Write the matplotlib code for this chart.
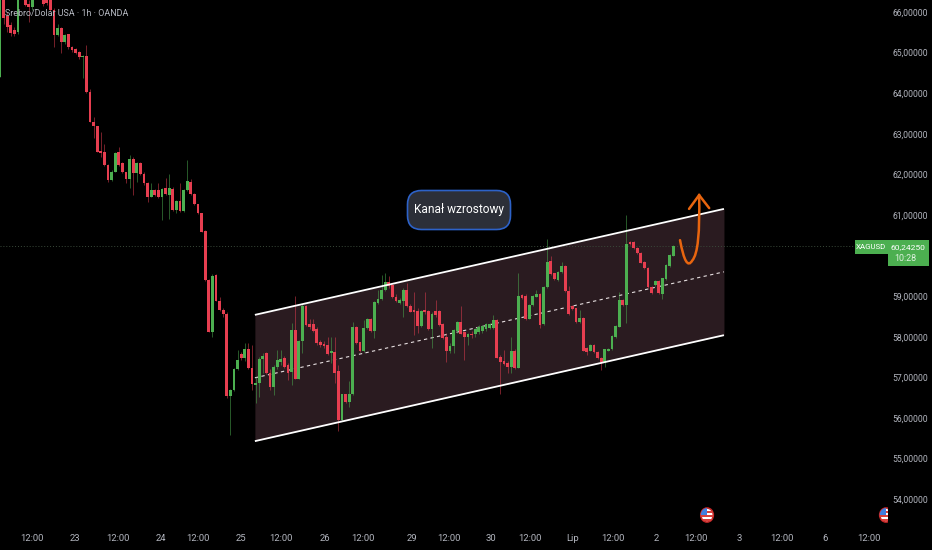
import matplotlib
matplotlib.use("Agg")
import matplotlib.pyplot as plt
from matplotlib.patches import Ellipse, FancyBboxPatch, PathPatch, Rectangle
from matplotlib.path import Path
from matplotlib.transforms import IdentityTransform

plt.rcParams["font.family"] = ["Roboto", "DejaVu Sans"]

# hourly candles (price in USD)
opens = [64.41, 66.50, 65.89, 65.68, 65.55, 65.50, 66.60, 66.45, 66.20, 66.13,
         66.50, 66.60, 66.40, 66.35, 66.40, 66.05, 65.43, 65.60, 65.25, 65.45,
         65.15, 65.10, 65.02, 64.88, 64.92, 64.04, 63.30, 63.18, 62.58, 62.56,
         62.23, 61.86, 62.07, 62.55, 62.27, 62.05, 61.88, 62.37, 62.03, 62.28,
         62.02, 61.80, 61.45, 61.62, 61.62, 61.45, 61.66, 61.50, 61.65, 61.12,
         61.35, 61.10, 61.62, 61.82, 61.51, 61.26, 61.04, 60.61, 59.40, 58.13,
         59.52, 58.89, 58.67, 58.57, 56.53, 56.69, 57.20, 57.58, 57.47, 57.69,
         57.22, 56.81, 56.87, 57.45, 57.59, 57.10, 56.77, 57.26, 57.39, 57.47,
         57.30, 57.14, 58.17, 56.97, 57.90, 58.77, 58.31, 58.31, 58.19, 57.88,
         57.83, 57.81, 57.59, 57.63, 57.16, 55.95, 56.58, 56.40, 56.59, 58.25,
         57.86, 57.65, 58.21, 58.45, 58.15, 58.84, 58.92, 59.15, 59.36, 59.27,
         58.99, 58.84, 58.87, 59.15, 58.76, 58.65, 58.64, 58.27, 58.64, 58.64,
         58.19, 58.64, 58.64, 58.31, 57.99, 57.65, 57.78, 58.15, 58.36, 58.12,
         57.99, 58.08, 58.07, 58.13, 58.15, 58.18, 58.21, 58.22, 58.41, 57.51,
         57.40, 57.36, 57.25, 57.66, 57.24, 59.03, 59.00, 58.45, 58.78, 58.99,
         59.05, 58.31, 59.22, 59.87, 59.56, 59.40, 59.59, 59.74, 59.13, 58.76,
         58.70, 58.37, 58.47, 57.72, 57.66, 57.81, 57.63, 57.49, 57.39, 57.66,
         57.70, 58.00, 58.25, 58.91, 58.78, 60.34, 60.34, 60.18, 60.06, 59.85,
         59.70, 59.23, 59.28, 59.38, 59.05, 59.42, 59.75, 60.00]
highs = [66.60, 66.60, 66.00, 65.75, 65.62, 66.60, 66.70, 66.50, 66.30, 66.40,
         66.70, 66.70, 66.45, 66.50, 66.45, 66.10, 65.70, 65.62, 65.47, 65.46,
         65.17, 65.12, 65.05, 64.95, 65.19, 64.10, 63.42, 63.20, 63.05, 62.76,
         62.25, 62.10, 62.55, 62.68, 62.30, 62.07, 62.48, 62.42, 62.30, 62.30,
         62.05, 61.82, 61.80, 61.64, 61.80, 61.66, 61.90, 62.00, 61.68, 61.37,
         61.78, 61.64, 62.35, 61.88, 61.53, 61.28, 61.05, 60.62, 59.42, 59.55,
         59.55, 58.99, 58.70, 58.60, 56.71, 57.22, 57.67, 57.63, 57.84, 57.84,
         57.80, 57.00, 57.50, 57.60, 57.62, 57.20, 57.30, 57.67, 57.67, 57.52,
         57.35, 58.33, 59.00, 57.92, 58.80, 58.79, 58.45, 58.45, 58.25, 57.92,
         57.90, 58.00, 58.00, 58.00, 57.30, 56.60, 56.60, 56.90, 58.37, 58.27,
         57.88, 58.41, 58.47, 58.47, 58.88, 59.15, 59.52, 59.56, 59.50, 59.30,
         59.05, 58.95, 59.20, 59.32, 58.80, 59.11, 58.70, 58.66, 59.11, 58.66,
         58.60, 58.90, 58.66, 58.33, 58.10, 57.85, 58.20, 58.38, 58.76, 58.15,
         58.10, 58.14, 58.22, 58.30, 58.30, 58.34, 58.33, 58.54, 58.43, 57.55,
         57.67, 57.40, 58.00, 57.70, 59.58, 59.06, 59.05, 58.80, 59.03, 59.15,
         59.07, 59.24, 60.40, 59.99, 59.58, 59.61, 59.85, 59.76, 59.24, 58.78,
         58.72, 58.66, 58.49, 57.75, 57.83, 57.83, 57.65, 57.51, 57.71, 57.73,
         58.05, 58.29, 59.10, 58.93, 61.00, 60.37, 60.37, 60.20, 60.08, 59.87,
         59.72, 59.25, 59.40, 59.40, 59.46, 59.79, 60.04, 60.25]
lows = [64.41, 65.70, 65.50, 65.42, 65.42, 65.45, 66.40, 66.15, 65.75, 66.05,
        66.45, 66.40, 66.15, 66.18, 66.03, 65.15, 65.40, 64.98, 65.22, 65.10,
        65.02, 64.96, 64.85, 64.37, 64.00, 63.28, 62.90, 62.54, 62.44, 62.20,
        61.82, 61.84, 62.05, 62.20, 62.03, 61.80, 61.66, 61.50, 61.82, 61.98,
        61.75, 61.33, 61.44, 61.46, 61.42, 60.88, 61.50, 60.90, 61.10, 61.05,
        61.08, 61.08, 61.60, 61.49, 61.24, 61.02, 60.57, 59.38, 58.11, 58.00,
        58.87, 58.64, 58.50, 56.50, 55.58, 56.67, 57.18, 57.42, 57.40, 57.20,
        56.69, 56.36, 56.52, 57.10, 57.08, 56.70, 56.56, 57.20, 57.30, 57.24,
        56.94, 56.81, 56.95, 56.95, 57.60, 58.27, 58.20, 58.13, 57.80, 57.75,
        57.72, 57.55, 57.35, 56.85, 55.69, 55.93, 56.38, 56.27, 56.57, 57.82,
        57.63, 57.63, 58.19, 58.13, 57.96, 58.80, 58.90, 59.13, 59.20, 58.95,
        58.85, 58.80, 58.50, 58.74, 58.60, 58.04, 58.10, 58.25, 58.55, 58.17,
        57.72, 58.50, 58.27, 57.94, 57.39, 57.60, 57.59, 58.10, 58.06, 57.43,
        57.80, 57.98, 58.00, 58.08, 58.10, 58.15, 58.18, 58.20, 57.47, 56.60,
        57.30, 57.10, 57.10, 57.20, 57.22, 58.94, 58.41, 58.43, 58.76, 58.97,
        58.21, 58.29, 59.20, 59.52, 59.40, 59.38, 59.57, 59.11, 58.54, 58.66,
        58.35, 58.35, 57.64, 57.55, 57.64, 57.60, 57.45, 57.18, 57.26, 57.64,
        57.68, 57.98, 58.23, 58.76, 58.33, 60.27, 60.16, 60.04, 59.81, 59.68,
        59.20, 59.05, 59.26, 59.05, 58.92, 59.40, 59.73, 59.98]
closes = [66.50, 65.85, 65.64, 65.48, 65.47, 66.45, 66.45, 66.18, 66.13, 66.35,
          66.60, 66.42, 66.20, 66.22, 66.05, 65.43, 65.60, 65.25, 65.43, 65.13,
          65.07, 65.00, 64.88, 64.92, 64.04, 63.30, 63.18, 62.56, 62.53, 62.22,
          61.86, 62.07, 62.52, 62.23, 62.05, 61.88, 62.37, 62.03, 62.27, 62.00,
          61.78, 61.45, 61.62, 61.50, 61.45, 61.64, 61.52, 61.67, 61.12, 61.35,
          61.10, 61.62, 61.84, 61.51, 61.26, 61.04, 60.59, 59.40, 58.13, 59.50,
          58.89, 58.66, 58.56, 56.53, 56.69, 57.20, 57.43, 57.47, 57.69, 57.22,
          56.84, 56.87, 57.45, 57.53, 57.10, 56.77, 57.26, 57.43, 57.45, 57.26,
          57.10, 58.17, 56.97, 57.90, 58.77, 58.29, 58.25, 58.15, 57.85, 57.80,
          57.78, 57.58, 57.64, 57.11, 55.95, 56.58, 56.40, 56.59, 58.25, 57.84,
          57.65, 58.21, 58.45, 58.15, 58.86, 58.92, 59.15, 59.36, 59.25, 58.97,
          58.87, 58.90, 59.15, 58.76, 58.62, 58.61, 58.27, 58.64, 58.62, 58.19,
          58.55, 58.54, 58.29, 57.96, 57.65, 57.78, 58.17, 58.36, 58.08, 57.99,
          58.08, 58.04, 58.19, 58.25, 58.27, 58.31, 58.31, 58.41, 57.49, 57.37,
          57.33, 57.25, 57.66, 57.24, 59.00, 58.96, 58.43, 58.78, 59.00, 59.05,
          58.29, 59.22, 59.85, 59.54, 59.42, 59.59, 59.74, 59.13, 58.56, 58.68,
          58.37, 58.47, 57.66, 57.63, 57.81, 57.62, 57.47, 57.39, 57.69, 57.71,
          58.03, 58.27, 58.91, 58.78, 60.29, 60.29, 60.18, 60.06, 59.83, 59.70,
          59.22, 59.07, 59.38, 59.07, 59.44, 59.77, 60.02, 60.24]

time_ticks = [8.9, 20.8, 32.8, 44.7, 55, 66.9, 78, 90.3, 100.8, 114.4, 124.7,
              136.4, 147.2, 159.2, 170.3, 182.2, 193.3, 205.3, 217.2, 229.2, 241.4]
time_labels = ["12:00", "23", "12:00", "24", "12:00", "25", "12:00", "26", "12:00",
               "29", "12:00", "30", "12:00", "Lip", "12:00", "2", "12:00", "3",
               "12:00", "6", "12:00"]
price_ticks = [66, 65, 64, 63, 62, 61, 59, 58, 57, 56, 55, 54]
last_price = 60.2425

# channel drawn on the chart
channel_x = [70.8, 201.1]
channel_top = [58.54, 61.15]
channel_mid = [56.99, 59.60]
channel_low = [55.43, 58.04]
flag_x = [196.4, 246.1]
flag_price = 53.61

red = "#e63e50"
green = "#4caf50"
xs = list(range(len(closes)))

fig = plt.figure(figsize=(9.32, 5.5), dpi=100, facecolor="black")
ax = fig.add_axes([0, 24 / 550, 888 / 932, 526 / 550], facecolor="black")
ax.set_xlim(0, 888 / 3.6)
ax.set_ylim(66 - 514 / 40.6, 66 + 12 / 40.6)
for s in ax.spines.values():
    s.set_visible(False)

# channel
ax.fill_between(channel_x, channel_low, channel_top, color="#2a1b20", lw=0, zorder=1)
ax.plot(channel_x, channel_top, color="white", lw=1.3, zorder=4, solid_capstyle="butt")
ax.plot(channel_x, channel_low, color="white", lw=1.3, zorder=4, solid_capstyle="butt")
ax.plot(channel_x, channel_mid, color="#e6dfe0", lw=0.8, ls=(0, (3, 3)), zorder=2)

# last price line
ax.axhline(last_price, color="#3a4a3a", lw=0.7, ls=(0, (1, 2)), zorder=1.5)

# candles
colors = [green if c >= o else red for o, c in zip(opens, closes)]
ax.vlines(xs, lows, highs, colors=colors, lw=0.6, alpha=0.6, zorder=3)
bottoms = [min(o, c) for o, c in zip(opens, closes)]
heights = [max(abs(c - o), 0.03) for o, c in zip(opens, closes)]
ax.bar(xs, heights, bottom=bottoms, width=0.78, color=colors, lw=0, zorder=3.5)

# hand drawn orange arrow
arrow = Path([(188.9, 60.38), (190.5, 59.6), (192.3, 59.88), (194.6, 60.1), (194.2, 61.5)],
             [Path.MOVETO, Path.CURVE3, Path.CURVE3, Path.CURVE3, Path.CURVE3])
orange = "#e8650f"
ax.add_patch(PathPatch(arrow, fc="none", ec=orange, lw=1.8, zorder=5, capstyle="round"))
ax.plot([191.4, 194.2, 197], [61.15, 61.49, 61.17], color=orange, lw=1.8, zorder=5,
        solid_capstyle="round")

# calendar flags
for fx in flag_x:
    disc = Ellipse((fx, flag_price), 12.5 / 3.6, 14 / 40.6, fc="white", ec="#c62828", lw=1.2, zorder=6)
    ax.add_patch(disc)
    for k in range(3):
        st = Rectangle((fx - 2, flag_price - 0.15 + k * 0.1), 4, 0.05, fc="#d8413c", lw=0, zorder=6.1)
        ax.add_patch(st)
        st.set_clip_path(disc)
    canton = Rectangle((fx - 2, flag_price), 2, 0.2, fc="#3f7fe0", lw=0, zorder=6.2)
    ax.add_patch(canton)
    canton.set_clip_path(disc)

ax.set_xticks(time_ticks, time_labels)
ax.set_yticks(price_ticks, [f"{p},00000" for p in price_ticks])
ax.yaxis.tick_right()
ax.tick_params(axis="both", length=0, colors="#b2b5be")
ax.tick_params(axis="x", pad=5.5, labelsize=6.8)
ax.tick_params(axis="y", pad=3, labelsize=6.2)


# labels in pixel space
def to_fig(px, py):
    return px / 932, 1 - py / 550


fig.text(*to_fig(5, 14), "Srebro/Dolar USA · 1h · OANDA", color="#b8bbc4", fontsize=6.4,
         va="center", ha="left", zorder=10)

box = FancyBboxPatch((407.5, 320.5), 103, 39, transform=IdentityTransform(),
                     boxstyle="round,pad=0,rounding_size=14",
                     fc="#2c2f38", ec="#2d62c8", lw=1.2, zorder=8)
fig.add_artist(box)
fig.text(*to_fig(459, 210), "Kanał wzrostowy", color="white", fontsize=8.6,
         ha="center", va="center", zorder=9)

fig.add_artist(Rectangle(to_fig(854.5, 254), 33 / 932, 14 / 550, transform=fig.transFigure,
                         fc=green, lw=0, zorder=8))
fig.add_artist(Rectangle(to_fig(888, 266), 41 / 932, 26 / 550, transform=fig.transFigure,
                         fc=green, lw=0, zorder=8))
fig.text(*to_fig(871, 247), "XAGUSD", color="white", fontsize=5.7, ha="center", va="center", zorder=9)
fig.text(*to_fig(908, 247), "60,24250", color="white", fontsize=6.1, ha="center", va="center",
         zorder=9)
fig.text(*to_fig(894, 258.5), "10:28", color="#dff2e0", fontsize=6.4, ha="left", va="center", zorder=9)

fig.savefig("out.png", dpi=100, facecolor="black")
